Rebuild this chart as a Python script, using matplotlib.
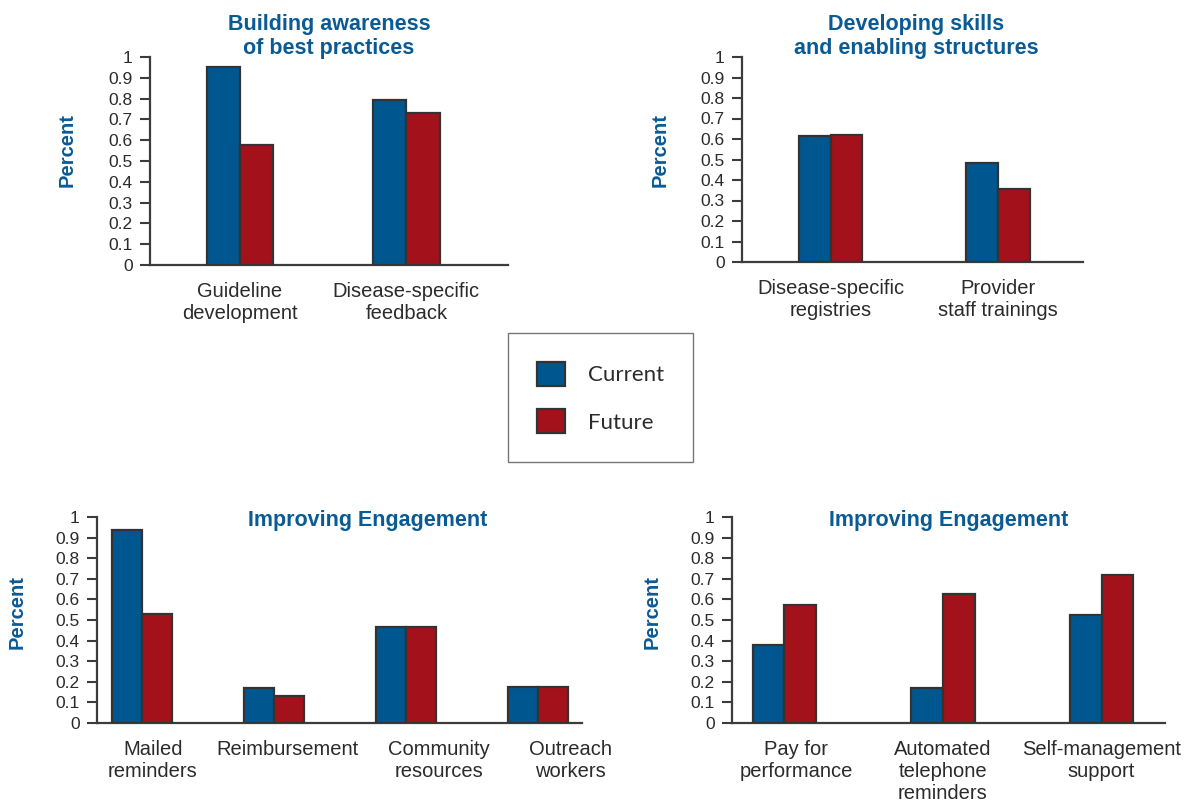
import matplotlib
matplotlib.use('Agg')
import matplotlib.pyplot as plt
import matplotlib.transforms as mtransforms
import numpy as np

# values (share of respondents)
awareness_cats = ['Guideline\ndevelopment', 'Disease-specific\nfeedback']
awareness_current = [0.95, 0.795]
awareness_future = [0.575, 0.73]

skills_cats = ['Disease-specific\nregistries', 'Provider\nstaff trainings']
skills_current = [0.617, 0.485]
skills_future = [0.62, 0.355]

engage1_cats = ['Mailed\nreminders', 'Reimbursement', 'Community\nresources', 'Outreach\nworkers']
engage1_current = [0.937, 0.17, 0.465, 0.175]
engage1_future = [0.53, 0.13, 0.465, 0.175]

engage2_cats = ['Pay for\nperformance', 'Automated\ntelephone\nreminders', 'Self-management\nsupport']
engage2_current = [0.377, 0.17, 0.525]
engage2_future = [0.575, 0.625, 0.72]

yticks = [0, 0.1, 0.2, 0.3, 0.4, 0.5, 0.6, 0.7, 0.8, 0.9, 1]
ytick_labels = ['0', '0.1', '0.2', '0.3', '0.4', '0.5', '0.6', '0.7', '0.8', '0.9', '1']

BLUE = '#00578f'
RED = '#a3121a'
TITLE = '#0a5a94'
AXC = '#3c3c3c'
TXT = '#2b2b2b'

plt.rcParams['font.family'] = ['Liberation Sans', 'DejaVu Sans']

fig = plt.figure(figsize=(11.96, 8.10), dpi=100)
W, H = 1196., 810.


def px_axes(x0, x1, ytop, ybot):
    # box given in pixel coords of the reference
    return fig.add_axes([x0 / W, 1 - ybot / H, (x1 - x0) / W, (ybot - ytop) / H])


def panel(ax, cats, cur, fut, xlim, width):
    x = np.arange(len(cats))
    b1 = ax.bar(x - width / 2, cur, width, color=BLUE, edgecolor='#333333', linewidth=1.6, zorder=3)
    b2 = ax.bar(x + width / 2, fut, width, color=RED, edgecolor='#333333', linewidth=1.6, zorder=3)
    ax.set_xlim(*xlim)
    ax.set_ylim(0, 1)
    ax.set_yticks(yticks)
    ax.set_yticklabels(ytick_labels, fontsize=12.5, color=TXT)
    ax.set_xticks(x)
    ax.set_xticklabels(cats, fontsize=14.5, color=TXT, linespacing=1.2)
    ax.tick_params(axis='x', length=0, pad=12)
    ax.tick_params(axis='y', length=7.5, width=1.5, color=AXC, pad=5)
    for s in ['top', 'right']:
        ax.spines[s].set_visible(False)
    for s in ['left', 'bottom']:
        ax.spines[s].set_color(AXC)
        ax.spines[s].set_linewidth(1.6)
    ax.patch.set_alpha(0)
    return b1, b2


def ylab(ax, xf, yf):
    ax.text(xf, yf, 'Percent', transform=ax.transAxes, rotation=90, ha='center', va='center',
            fontsize=14.5, fontweight='bold', color=TITLE)


# top left
ax1 = px_axes(150, 508, 57, 265)
bars = panel(ax1, awareness_cats, awareness_current, awareness_future, (-0.54, 1.61), 0.2)
ax1.text(0.5, 1.014, 'Building awareness\nof best practices', transform=ax1.transAxes,
         ha='center', va='baseline', fontsize=15.5, fontweight='bold', color=TITLE, linespacing=1.2)
ylab(ax1, -0.232, 0.553)

# top right
ax2 = px_axes(742, 1083, 57, 262)
panel(ax2, skills_cats, skills_current, skills_future, (-0.53, 1.51), 0.19)
ax2.text(0.51, 1.014, 'Developing skills\nand enabling structures', transform=ax2.transAxes,
         ha='center', va='baseline', fontsize=15.5, fontweight='bold', color=TITLE, linespacing=1.2)
ylab(ax2, -0.24, 0.546)

# bottom left
ax3 = px_axes(97, 582, 517, 723)
panel(ax3, engage1_cats, engage1_current, engage1_future, (-0.34, 3.33), 0.227)
ax3.text(0.559, 0.985, 'Improving Engagement', transform=ax3.transAxes,
         ha='center', va='center', fontsize=15.5, fontweight='bold', color=TITLE)
ylab(ax3, -0.165, 0.539)
# labels in the original sit a bit right of their bar pairs
for lab, dx in zip(ax3.get_xticklabels(), [11, 13, 33, 32]):
    lab.set_transform(lab.get_transform() + mtransforms.ScaledTranslation(dx / 100., 0, fig.dpi_scale_trans))

# bottom right
ax4 = px_axes(732, 1165, 517, 723)
panel(ax4, engage2_cats, engage2_current, engage2_future, (-0.33, 2.40), 0.2)
ax4.text(0.5, 0.985, 'Improving Engagement', transform=ax4.transAxes,
         ha='center', va='center', fontsize=15.5, fontweight='bold', color=TITLE)
ylab(ax4, -0.185, 0.539)
for lab, dx in zip(ax4.get_xticklabels(), [12, 0, 0]):
    lab.set_transform(lab.get_transform() + mtransforms.ScaledTranslation(dx / 100., 0, fig.dpi_scale_trans))

leg = fig.legend(bars, ['Current', 'Future'], loc='upper left',
                 bbox_to_anchor=(508 / W, 1 - 333 / H), frameon=True, fancybox=False,
                 prop={'family': 'Lato', 'size': 16}, handlelength=1.27, handleheight=1.27,
                 handletextpad=1.05, labelspacing=1.07, borderpad=1.3, borderaxespad=0)
leg.get_frame().set_edgecolor('#555555')
leg.get_frame().set_linewidth(1.0)
for t in leg.get_texts():
    t.set_color(TXT)

fig.savefig('out.png', dpi=100)
